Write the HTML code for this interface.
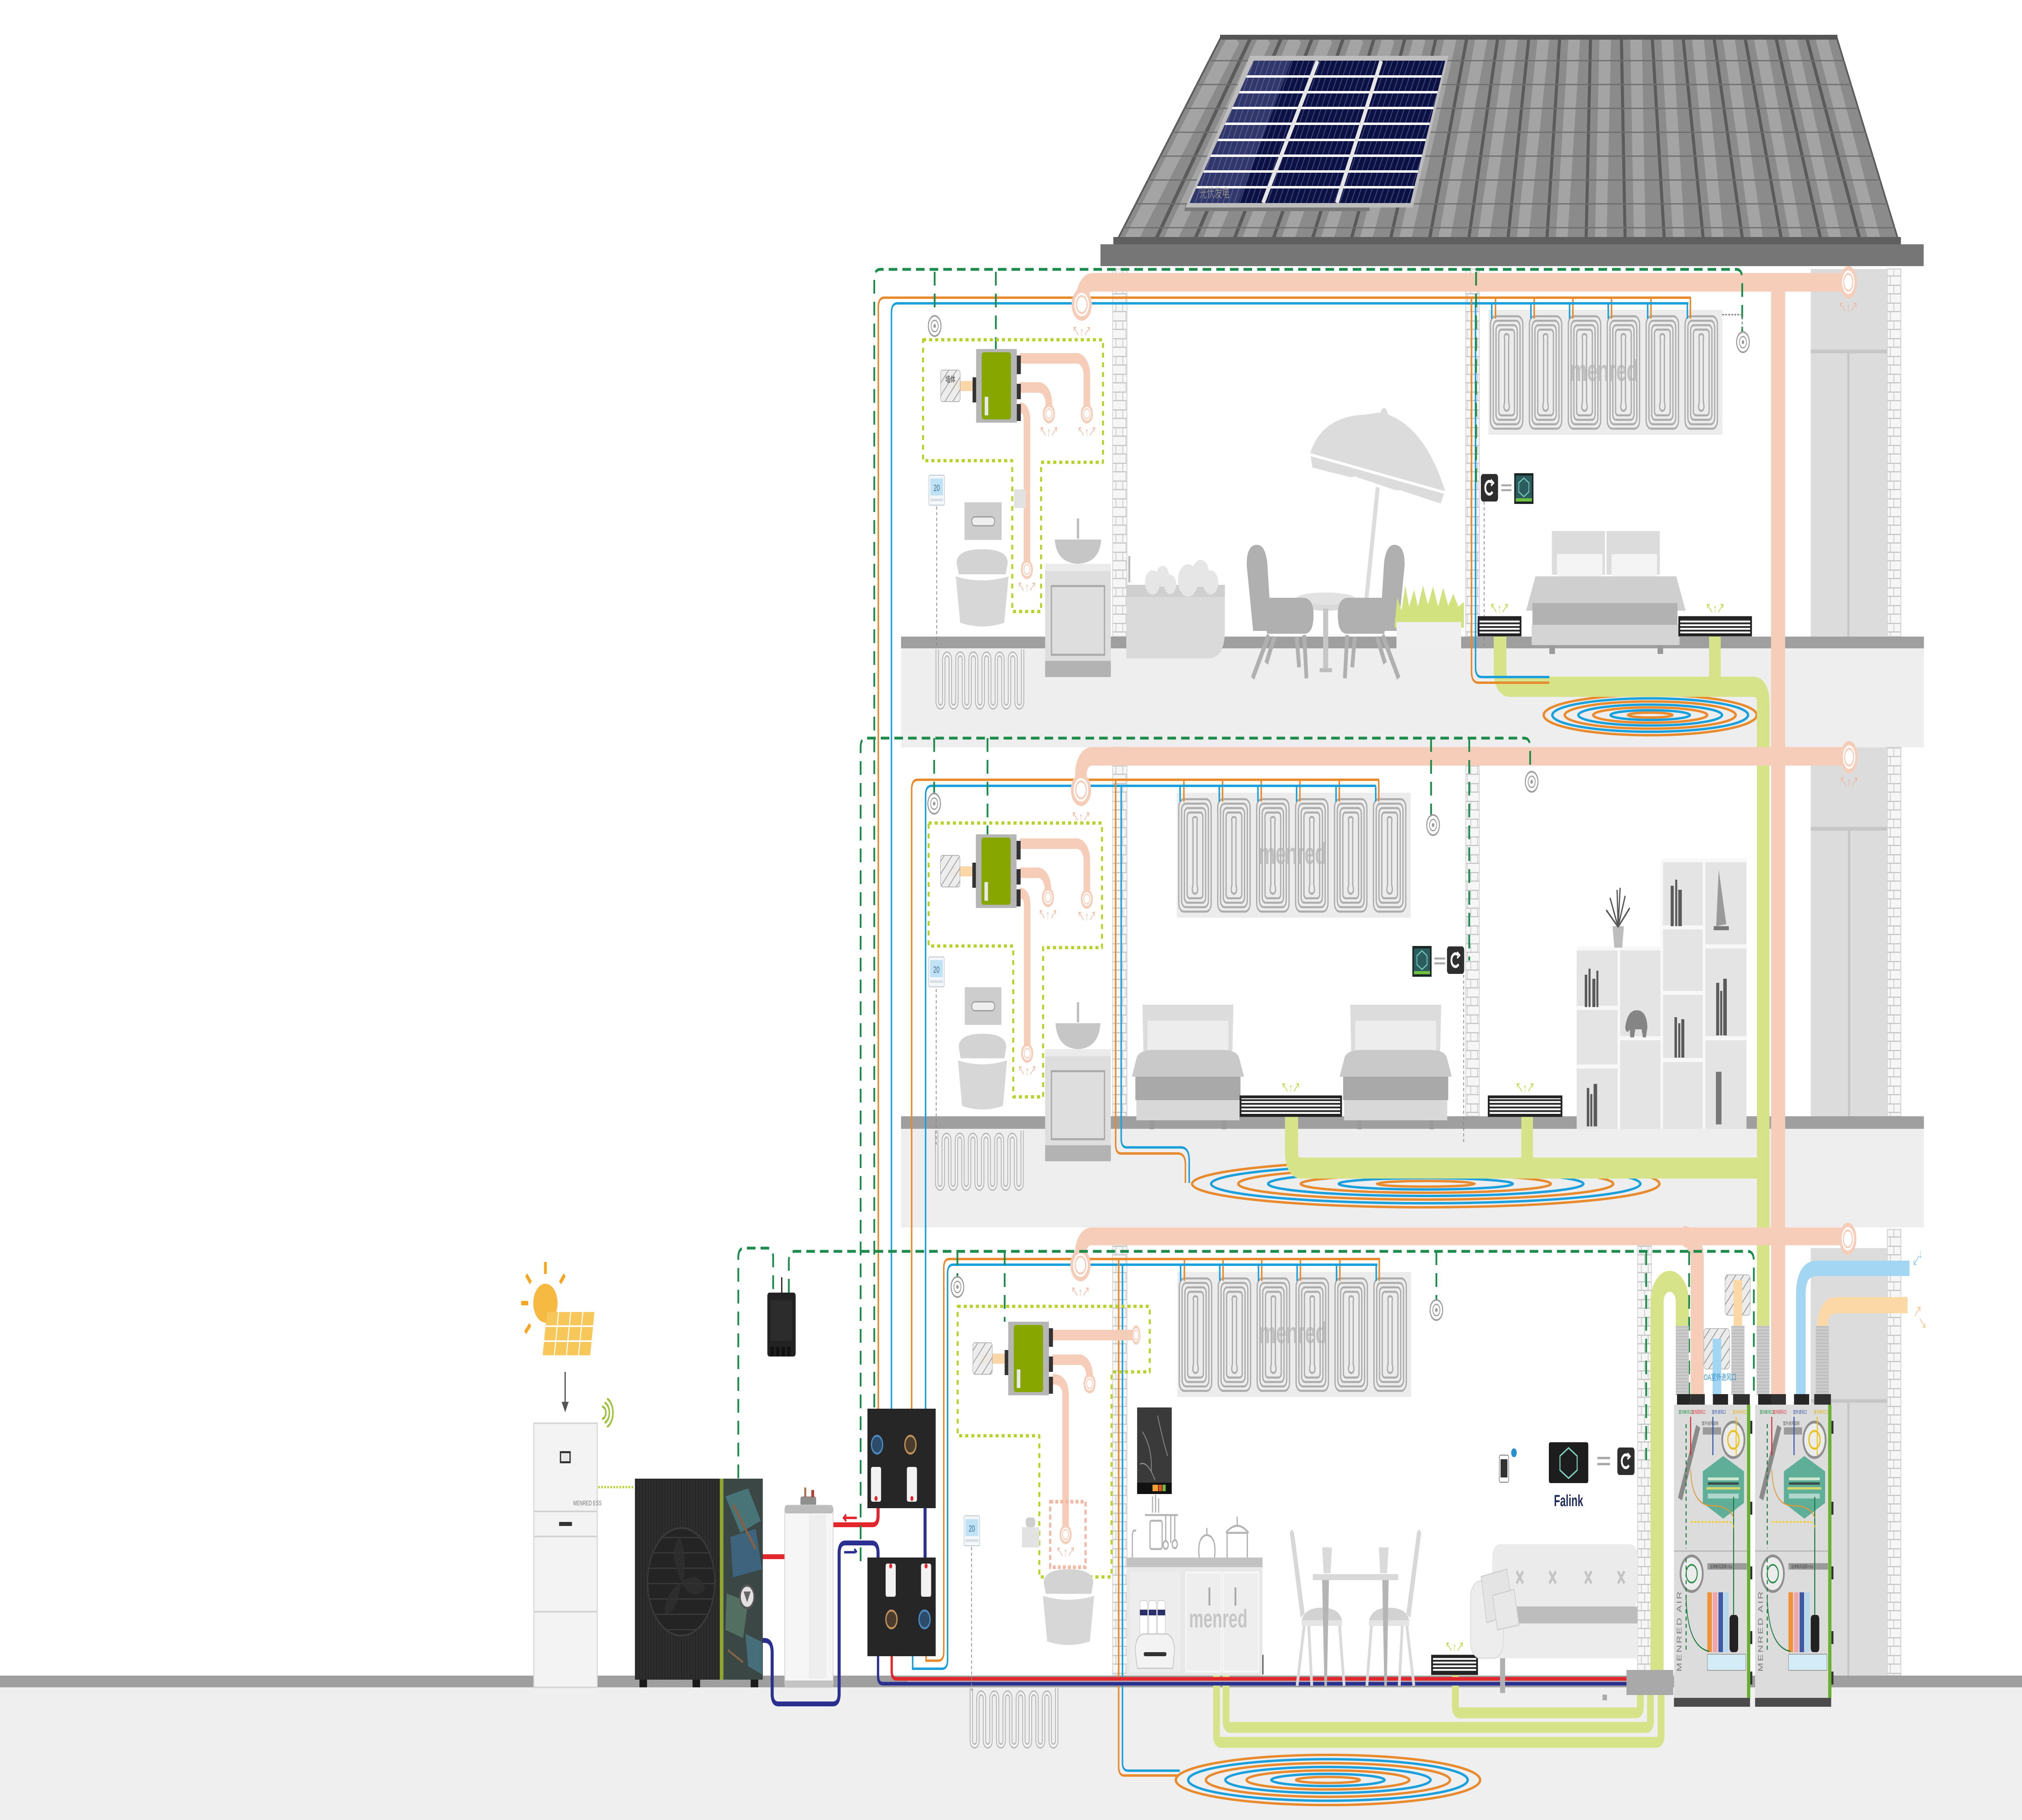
<!DOCTYPE html>
<html><head><meta charset="utf-8"><title>Menred house system</title>
<style>
html,body{margin:0;padding:0;background:#fff;width:100%;height:100%;overflow:hidden;}
svg{display:block;width:100vw;height:100vh;}
text{font-family:"Liberation Sans","Noto Sans CJK SC",sans-serif;}
</style></head><body>
<svg xmlns="http://www.w3.org/2000/svg" xmlns:xlink="http://www.w3.org/1999/xlink" viewBox="0 0 8000 4500" preserveAspectRatio="none">
<defs>
<pattern id="brick" width="54" height="44" patternUnits="userSpaceOnUse">
<rect width="54" height="44" fill="#f6f6f6"/>
<path d="M0 1.5H54M0 22.5H54M14 1.5V22.5M41 1.5V22.5M27 22.5V44" stroke="#c9c9c9" stroke-width="3" fill="none"/>
</pattern>
<pattern id="hatch" width="22" height="22" patternUnits="userSpaceOnUse" patternTransform="rotate(45)">
<rect width="22" height="22" fill="#ececec"/><rect width="3" height="22" fill="#a0a0a0"/>
</pattern>
<pattern id="cells" width="22" height="600" patternUnits="userSpaceOnUse" patternTransform="skewX(-28)">
<rect width="22" height="600" fill="#0c1142"/><rect width="3" height="600" fill="#46528e"/>
</pattern>
<pattern id="grille" width="10" height="9" patternUnits="userSpaceOnUse">
<rect width="10" height="9" fill="#fff"/><rect width="10" height="4.5" fill="#2b2b2b"/>
</pattern>
<pattern id="hpl" width="11" height="11" patternUnits="userSpaceOnUse">
<rect width="11" height="11" fill="#2e2e2e"/><rect width="3" height="11" fill="#222"/>
</pattern>
<pattern id="hgrid" width="10" height="38" patternUnits="userSpaceOnUse">
<rect width="10" height="38" fill="#242424"/><rect width="10" height="3" fill="#3a3a3a"/>
</pattern>
<pattern id="flex" width="10" height="8" patternUnits="userSpaceOnUse">
<rect width="10" height="8" fill="#cbcbcb"/><rect width="10" height="2" fill="#b8b8b8"/>
</pattern>
<clipPath id="roofclip"><polygon points="4827,92 7270,92 7519,604 4408,604"/></clipPath>
<clipPath id="solclip"><polygon points="4960,150 5718,150 5580,502 4706,502"/></clipPath>
<clipPath id="fanclip"><circle cx="2695" cy="3911" r="133"/></clipPath>

<g id="rl"><path fill="none" d="M4827 92L4408 604M4949 92L4564 604M5071 92L4719 604M5193 92L4875 604M5316 92L5030 604M5438 92L5186 604M5560 92L5341 604M5682 92L5497 604M5804 92L5652 604M5926 92L5808 604M6049 92L5964 604M6171 92L6119 604M6293 92L6275 604M6415 92L6430 604M6537 92L6586 604M6659 92L6741 604M6781 92L6897 604M6904 92L7052 604M7026 92L7208 604M7148 92L7363 604M7270 92L7519 604"/></g>

<g id="cu" fill="none" stroke="#acacac" stroke-width="5">
<rect x="8" y="16" width="128" height="278" rx="20"/><rect x="19" y="27" width="106" height="256" rx="16"/><rect x="30" y="38" width="84" height="234" rx="13"/><rect x="41" y="49" width="62" height="212" rx="10"/>
<path d="M64 72 Q60 60 72 60 Q84 60 80 72 V228 Q88 248 72 250 Q56 248 64 228 Z"/>
</g>
<g id="panel">
<rect width="925" height="309" fill="#ececec"/>
<use href="#cu"/><use href="#cu" x="154"/><use href="#cu" x="308"/><use href="#cu" x="462"/><use href="#cu" x="616"/><use href="#cu" x="770"/>
<text x="458" y="176" font-size="74" font-weight="bold" fill="#b4b4b4" text-anchor="middle" opacity="0.75">menred</text>
<path d="M28 -31V22M181 -31V22M334 -31V22M487 -31V22M643 -31V22M799 -31V22" stroke="#e88a2e" stroke-width="6" fill="none"/>
<path d="M13 -16V22M168 -16V22M321 -16V22M474 -16V22M630 -16V22M787 -16V22" stroke="#1ba0dc" stroke-width="6" fill="none"/>
</g>

<g id="coil">
<path d="M10 0V130A13 13 0 0 0 36 130V25A13 13 0 0 1 62 25V130A13 13 0 0 0 88 130V25A13 13 0 0 1 114 25V130A13 13 0 0 0 140 130V25A13 13 0 0 1 166 25V130A13 13 0 0 0 192 130V25A13 13 0 0 1 218 25V130A13 13 0 0 0 244 130V25A13 13 0 0 1 270 25V130A13 13 0 0 0 296 130V25A13 13 0 0 1 322 25V130A13 13 0 0 0 348 130V0" fill="none" stroke="#b7b7b7" stroke-width="13"/>
<path d="M10 0V130A13 13 0 0 0 36 130V25A13 13 0 0 1 62 25V130A13 13 0 0 0 88 130V25A13 13 0 0 1 114 25V130A13 13 0 0 0 140 130V25A13 13 0 0 1 166 25V130A13 13 0 0 0 192 130V25A13 13 0 0 1 218 25V130A13 13 0 0 0 244 130V25A13 13 0 0 1 270 25V130A13 13 0 0 0 296 130V25A13 13 0 0 1 322 25V130A13 13 0 0 0 348 130V0" fill="none" stroke="#f3f3f3" stroke-width="6"/>
</g>

<g id="spiral" fill="none">
<ellipse rx="430" ry="58" stroke="#e88a2e" stroke-width="6" vector-effect="non-scaling-stroke"/>
<ellipse rx="395" ry="48" stroke="#1ba0dc" stroke-width="6" vector-effect="non-scaling-stroke"/>
<ellipse rx="345" ry="39" stroke="#e88a2e" stroke-width="6" vector-effect="non-scaling-stroke"/>
<ellipse rx="290" ry="30" stroke="#1ba0dc" stroke-width="6" vector-effect="non-scaling-stroke"/>
<ellipse rx="230" ry="22" stroke="#e88a2e" stroke-width="6" vector-effect="non-scaling-stroke"/>
<ellipse rx="160" ry="14" stroke="#1ba0dc" stroke-width="6" vector-effect="non-scaling-stroke"/>
<ellipse rx="90" ry="7" stroke="#e88a2e" stroke-width="6" vector-effect="non-scaling-stroke"/>
</g>

<g id="ring"><circle r="40" fill="#f6cdb8"/><circle r="29" fill="#fff"/><circle r="21" fill="none" stroke="#f6cdb8" stroke-width="5"/></g>
<g id="sring"><circle r="24" fill="#f6cdb8"/><circle r="17" fill="#fff"/><circle r="12" fill="none" stroke="#f6cdb8" stroke-width="3"/></g>
<g id="sens"><circle r="25" fill="#fff" stroke="#9b9b9b" stroke-width="4"/><circle r="14" fill="none" stroke="#9b9b9b" stroke-width="3"/><circle r="5" fill="#9b9b9b"/></g>

<g id="mini">
<rect x="-14" y="70" width="16" height="62" fill="#333"/>
<rect width="161" height="182" fill="#b6b6b6"/>
<rect x="22" y="8" width="116" height="166" rx="8" fill="#88a600"/>
<rect x="161" y="16" width="16" height="46" fill="#333"/><rect x="161" y="86" width="16" height="38" fill="#333"/><rect x="161" y="136" width="16" height="42" fill="#333"/>
<rect x="34" y="118" width="14" height="46" fill="#e8e8e8"/>
</g>

<g id="toilet">
<path d="M10 34 Q10 0 111 0 Q212 0 212 34 L204 62 L18 62 Z" fill="#d3d3d3"/>
<path d="M6 64 Q111 82 216 64 L198 182 Q111 200 24 182 Z" fill="#d7d7d7"/>
<path d="M6 64 Q111 84 216 64" stroke="#fff" stroke-width="6" fill="none"/>
</g>

<g id="sink">
<rect width="260" height="280" fill="#dedede"/><rect width="260" height="18" fill="#ebebeb"/>
<rect x="25" y="55" width="210" height="170" fill="none" stroke="#a9a9a9" stroke-width="5"/>
<rect y="240" width="260" height="40" fill="#b3b3b3"/>
</g>

<g id="bed">
<path d="M42 0 H402 L398 116 H46 Z" fill="#dcdcdc"/>
<rect x="62" y="40" width="320" height="76" fill="#ededed"/>
<path d="M20 130 Q30 112 90 112 H354 Q414 112 424 130 L444 178 H0 Z" fill="#c9c9c9"/>
<rect x="14" y="178" width="416" height="58" fill="#a9a9a9"/>
<rect x="18" y="236" width="408" height="50" fill="#d8d8d8"/>
<rect x="70" y="286" width="18" height="22" fill="#9a9a9a"/><rect x="356" y="286" width="18" height="22" fill="#9a9a9a"/>
</g>

<g id="thermo"><rect width="62" height="74" rx="4" fill="#f4f7fa" stroke="#b9c6d0" stroke-width="2"/><rect x="6" y="8" width="50" height="42" fill="#bfe2f6"/><text x="31" y="39" font-size="22" text-anchor="middle" fill="#3a6a8a">20</text><rect x="6" y="58" width="50" height="6" fill="#d6dde3"/></g>

<g id="ctrl"><rect width="68" height="68" rx="9" fill="#2e2e2e"/><path d="M44 22 A16 16 0 1 0 46 44" fill="none" stroke="#fff" stroke-width="7"/><path d="M40 14 L50 22 L40 29" fill="none" stroke="#fff" stroke-width="5"/></g>
<g id="tab"><rect width="76" height="76" fill="#1c2526"/><rect x="6" y="6" width="64" height="56" fill="#2c5d5e"/><path d="M38 12 L58 24 V46 L38 58 L18 46 V24 Z" fill="none" stroke="#7fd0c0" stroke-width="3"/><rect x="6" y="62" width="64" height="8" fill="#6fbf40"/></g>

<g id="erv">
<rect x="12" y="-26" width="52" height="26" fill="#262626"/><rect x="64" y="-26" width="58" height="26" fill="#303030"/><rect x="154" y="-26" width="60" height="26" fill="#262626"/><rect x="234" y="-26" width="66" height="26" fill="#303030"/>
<rect x="0" y="0" width="301" height="747" fill="#dcdcdc"/>
<rect x="289" y="0" width="13" height="725" fill="#6aaf2e"/>
<rect x="302" y="40" width="8" height="32" fill="#333"/><rect x="302" y="240" width="8" height="32" fill="#333"/><rect x="302" y="400" width="8" height="32" fill="#333"/><rect x="302" y="560" width="8" height="32" fill="#333"/><rect x="302" y="660" width="8" height="32" fill="#333"/>
<line x1="0" y1="362" x2="289" y2="362" stroke="#a8a8a8" stroke-width="2"/>
<rect x="0" y="725" width="301" height="22" fill="#4b4b4b"/>
<polygon points="195,127 277,165 277,243 195,282 114,243 114,165" fill="#5fae98"/>
<rect x="134" y="180" width="122" height="7" fill="#e8f5e0" opacity=".8"/><rect x="134" y="192" width="122" height="6" fill="#2a2a2a" opacity=".7"/><rect x="128" y="204" width="134" height="6" fill="#f0e060" opacity=".8"/>
<rect x="134" y="220" width="122" height="12" fill="#fff" opacity=".5"/>
<circle cx="235" cy="87" r="44" fill="#ececec" stroke="#8f8f8f" stroke-width="7"/><circle cx="235" cy="87" r="22" fill="none" stroke="#e8c21e" stroke-width="5"/>
<circle cx="70" cy="418" r="44" fill="#ececec" stroke="#8f8f8f" stroke-width="7"/><circle cx="70" cy="418" r="22" fill="none" stroke="#2f8f4f" stroke-width="4"/>
<polygon points="88,50 104,57 32,237 16,230" fill="#8a8a8a"/>
<rect x="114" y="56" width="72" height="18" fill="#9a9a9a"/>
<rect x="132" y="392" width="156" height="16" fill="#9a9a9a"/>
<rect x="132" y="464" width="18" height="148" fill="#f0923a"/><rect x="154" y="464" width="18" height="148" fill="#f2a5a8"/><rect x="176" y="464" width="18" height="148" fill="#3d5aa6"/><rect x="198" y="464" width="18" height="148" fill="#b4d9ef"/>
<rect x="220" y="520" width="34" height="92" rx="10" fill="#222"/>
<rect x="132" y="617" width="152" height="40" fill="#d3ecf7" stroke="#9a9a9a" stroke-width="2"/>
<path d="M48 48V355M48 380V610" stroke="#1b7a3d" stroke-width="4" stroke-dasharray="10 8" fill="none"/>
<path d="M66 30V125" stroke="#d8262c" stroke-width="4"/><path d="M154 30V125" stroke="#2b4fa8" stroke-width="4"/><path d="M246 125V30" stroke="#f0c419" stroke-width="4"/>
<path d="M236 228V520" stroke="#1b7a3d" stroke-width="4"/>
<path d="M66 160 Q70 250 150 250 Q220 250 236 280" fill="none" stroke="#d89a3a" stroke-width="3"/>
<path d="M66 290 H220 Q236 292 236 310" fill="none" stroke="#f0d020" stroke-width="4" stroke-dasharray="8 6"/>
<path d="M48 480 Q55 600 140 610" fill="none" stroke="#1b7a3d" stroke-width="3"/>
<text x="18" y="22" font-size="11" fill="#1b8a3d">室内新风口</text>
<text x="70" y="22" font-size="11" fill="#d8262c">室内回风口</text>
<text x="150" y="22" font-size="11" fill="#2b4fa8">室外进风口</text>
<text x="232" y="22" font-size="11" fill="#e0b010">室外排风口</text>
<text x="110" y="50" font-size="11" fill="#555">室外进风滤网</text>
<text x="142" y="404" font-size="11" fill="#444">洁净新风滤网 H11</text>
<text transform="translate(30 660) rotate(-90)" font-size="26" fill="#7a7a7a" letter-spacing="4">MENRED AIR</text>
</g>
</defs>

<rect width="8000" height="4500" fill="#ffffff"/>

<!-- floor bands -->
<rect x="3565" y="1603" width="4047" height="245" fill="#eeeeee"/>
<rect x="3565" y="2791" width="4047" height="244" fill="#eeeeee"/>
<rect x="0" y="4172" width="8000" height="328" fill="#efefef"/>

<!-- right wall column -->
<rect x="7164" y="665" width="303" height="909" fill="#dcdcdc"/>
<rect x="7164" y="1848" width="303" height="912" fill="#dcdcdc"/>
<rect x="7164" y="3086" width="303" height="1057" fill="#dcdcdc"/>
<path d="M7164 869H7467M7313 869V1574M7164 2049H7467M7316 2049V2760M7164 3464H7467M7313 3464V4143" stroke="#c6c6c6" stroke-width="9" fill="none"/>

<!-- brick columns -->
<g fill="url(#brick)" stroke="#d4d4d4" stroke-width="3">
<rect x="7467" y="665" width="54" height="909"/><rect x="7467" y="1848" width="54" height="912"/><rect x="7467" y="3040" width="54" height="1103"/>
<rect x="4402" y="665" width="57" height="909"/><rect x="4402" y="1848" width="57" height="912"/><rect x="4402" y="3040" width="57" height="1103"/>
<rect x="5799" y="665" width="54" height="909"/><rect x="5799" y="1848" width="54" height="912"/>
<rect x="6479" y="3078" width="55" height="1065"/>
</g>

<!-- slabs -->
<rect x="3565" y="1574" width="4047" height="29" fill="#9f9f9f"/>
<rect x="3565" y="2760" width="4047" height="31" fill="#9f9f9f"/>
<rect x="0" y="4143" width="8000" height="29" fill="#9f9f9f"/>

<!-- roof -->
<polygon points="4827,92 7270,92 7519,604 4408,604" fill="#8b8b8b"/>
<g clip-path="url(#roofclip)">
<use href="#rl" transform="translate(58 0)" stroke="#a4a4a4" stroke-width="46"/>
<use href="#rl" stroke="#5b5b5b" stroke-width="12"/>
<path d="M4300 150H7600M4300 209H7600M4300 268H7600M4300 327H7600M4300 386H7600M4300 445H7600M4300 504H7600M4300 563H7600" stroke="#6e6e6e" stroke-width="3" fill="none"/>
</g>
<rect x="4827" y="86" width="2443" height="12" fill="#555"/>
<rect x="4405" y="586" width="3116" height="20" fill="#5f5f5f"/>
<rect x="4354" y="604" width="3257" height="54" fill="#767676"/>

<!-- solar panel -->
<polygon points="4690,505 5420,505 5418,522 4686,522" fill="#7a7a7a"/>
<polygon points="4946,138 5731,138 5590,513 4690,513" fill="#bdbdbd"/>
<polygon points="4960,150 5718,150 5580,502 4706,502" fill="url(#cells)"/>
<g clip-path="url(#solclip)">
<polygon points="4960,150 5110,150 4900,502 4706,502" fill="#8a93c8" opacity="0.3"/>
<path d="M4600 189H5800M4600 228H5800M4600 267H5800M4600 306H5800M4600 346H5800M4600 385H5800M4600 424H5800M4600 463H5800" stroke="#fff" stroke-width="6"/>
<path d="M5213 150L4997 502M5465 150L5289 502" stroke="#e6e6e6" stroke-width="14"/>
</g>
<text x="4745" y="488" font-size="30" fill="#8c8c8c">光伏发电</text>

<!-- radiant ceiling panels -->
<use href="#panel" transform="translate(5889 766)"/>
<use href="#panel" transform="translate(4656 1960)"/>
<use href="#panel" transform="translate(4658 3145)"/>

<!-- floor coils -->
<use href="#coil" transform="translate(3698 1605)"/>
<use href="#coil" transform="translate(3696 2795)"/>
<use href="#coil" transform="translate(3833 4174)"/>

<!-- heating spirals -->
<use href="#spiral" transform="translate(6529 1768) scale(0.98 0.86)"/>
<use href="#spiral" transform="translate(5641 2927) scale(2.15 1)"/>
<use href="#spiral" transform="translate(5254 4401) scale(1.4 1.07)"/>

<!-- green return ducts -->
<g fill="none" stroke="#d7e389" stroke-linejoin="round">
<path d="M5935 1568 V1658 Q5935 1698 5975 1698 H6936 Q6976 1698 6976 1738 V3285" stroke-width="50"/>
<path d="M6785 1568 V1698" stroke-width="46"/>
<path d="M5110 2756 V2848 Q5110 2888 5150 2888 H6976" stroke-width="52"/>
<path d="M6042 2756 V2888" stroke-width="46"/>
<path d="M4813 4138 V4290 Q4813 4308 4831 4308 H6553 Q6572 4308 6572 4290 V4180" stroke-width="27"/>
<path d="M4851 4138 V4254 Q4851 4271 4868 4271 H6513 Q6530 4271 6530 4254 V4180" stroke-width="27"/>
<path d="M5758 4138 V4218 Q5758 4235 5775 4235 H6473 Q6490 4235 6490 4218 V4180" stroke-width="27"/>
<path d="M6556 4140 V3218 A50 50 0 0 1 6656 3218 V3285" stroke-width="52"/>
</g>

<!-- supply lines -->
<g fill="none" stroke-width="6">
<path d="M3475 3483 V760 Q3475 736 3499 736 H6690" stroke="#e88a2e"/>
<path d="M3527 3483 V774 Q3527 750 3551 750 H6680" stroke="#1ba0dc"/>
<path d="M5822 736 V1660 Q5822 1688 5850 1688 H6130" stroke="#e88a2e"/>
<path d="M5838 750 V1650 Q5838 1674 5862 1674 H6130" stroke="#1ba0dc"/>
<path d="M3607 3483 V1952 Q3607 1928 3631 1928 H5456" stroke="#e88a2e"/>
<path d="M3662 3483 V1967 Q3662 1943 3686 1943 H5444" stroke="#1ba0dc"/>
<path d="M4414 1928 V2830 Q4414 2852 4436 2852 H4660 Q4690 2852 4690 2880 V2925" stroke="#e88a2e"/>
<path d="M4436 1943 V2815 Q4436 2837 4458 2837 H4672 Q4705 2837 4705 2870 V2925" stroke="#1ba0dc"/>
<path d="M3664 4095 V4106 H3712 Q3734 4106 3734 4084 V3135 Q3734 3113 3756 3113 H5460" stroke="#e88a2e"/>
<path d="M3611 4095 V4126 H3727 Q3749 4126 3749 4104 V3149 Q3749 3127 3771 3127 H5450" stroke="#1ba0dc"/>
<path d="M4426 3113 V4368 Q4426 4390 4448 4390 H4660" stroke="#e88a2e"/>
<path d="M4441 3127 V4358 Q4441 4378 4463 4378 H4668" stroke="#1ba0dc"/>
</g>

<!-- red / navy hydronic -->
<g fill="none" stroke-width="12">
<path d="M2956 3920 V3870 Q2956 3849 2977 3849 H3105" stroke="#e3262c"/>
<path d="M3296 3770 H3452 Q3474 3770 3474 3748 V3729" stroke="#e3262c"/>
<path d="M2956 3976 V4030 Q2956 4056 2982 4056 H3025 Q3055 4056 3055 4086 V4188 Q3055 4213 3080 4213 H3295 Q3320 4213 3320 4188 V3840 Q3320 3815 3345 3815 H3450 Q3474 3815 3474 3840 V3851" stroke="#2b2f8f"/>
<path d="M3660 3729 V3851" stroke="#2b2f8f"/>
<path d="M3528 4095 V4132 Q3528 4151 3547 4151 H6435" stroke="#e3262c" stroke-width="9"/>
<path d="M3474 4095 V4144 Q3474 4163 3493 4163 H6435" stroke="#2b2f8f" stroke-width="9"/>
</g>
<path d="M3590 4157 H6435" stroke="#b9b9b9" stroke-width="3"/>

<!-- peach fresh-air ducts -->
<g fill="none" stroke="#f6cdb8" stroke-linejoin="round">
<path d="M4280 753 V740 A42 42 0 0 1 4322 698 H7313" stroke-width="46"/>
<path d="M4277 1953 V1912 A42 42 0 0 1 4319 1870 H7316" stroke-width="46"/>
<path d="M4275 3128 V3099 A42 42 0 0 1 4317 3057 H7311" stroke-width="44"/>
<path d="M6660 3057 A55 55 0 0 1 6715 3112 V3452" stroke-width="52"/>
<path d="M7035 698 V3452" stroke-width="56"/>
<path d="M4035 886 H4260 A40 40 0 0 1 4300 926 V1005" stroke-width="26"/>
<path d="M4035 958 H4110 A40 40 0 0 1 4150 998 V1005" stroke-width="26"/>
<path d="M4035 1008 Q4063 1008 4063 1040 V1392" stroke-width="26"/>
<path d="M4035 2086 H4260 A40 40 0 0 1 4300 2126 V2205" stroke-width="26"/>
<path d="M4035 2158 H4110 A40 40 0 0 1 4146 2198 V2205" stroke-width="26"/>
<path d="M4035 2208 Q4064 2208 4064 2240 V2588" stroke-width="26"/>
<path d="M4165 3301 H4490" stroke-width="26"/>
<path d="M4165 3362 H4271 A40 40 0 0 1 4311 3402 V3405" stroke-width="26"/>
<path d="M4165 3410 Q4216 3410 4216 3450 V3780" stroke-width="26"/>
</g>
<rect x="3765" y="942" width="100" height="25" fill="#fbd6a8"/>
<rect x="3764" y="2142" width="100" height="25" fill="#fbd6a8"/>
<rect x="3880" y="3347" width="110" height="25" fill="#fbd6a8"/>
<rect x="3722" y="915" width="77" height="78" rx="8" fill="url(#hatch)" stroke="#aaa" stroke-width="2" opacity=".9"/>
<rect x="3721" y="2115" width="77" height="78" rx="8" fill="url(#hatch)" stroke="#aaa" stroke-width="2" opacity=".9"/>
<rect x="3849" y="3320" width="77" height="78" rx="8" fill="url(#hatch)" stroke="#aaa" stroke-width="2" opacity=".9"/>
<text x="3740" y="945" font-size="20" fill="#444">墙体</text>
<rect x="4155" y="3713" width="140" height="162" fill="none" stroke="#f3b9a4" stroke-width="9" stroke-dasharray="12 8"/>

<!-- rings -->
<use href="#ring" transform="translate(4280 753)"/>
<use href="#ring" transform="translate(7313 698) scale(0.85 1)"/>
<use href="#ring" transform="translate(4277 1953)"/>
<use href="#ring" transform="translate(7316 1872) scale(0.85 1)"/>
<use href="#ring" transform="translate(4275 3128)"/>
<use href="#ring" transform="translate(7311 3063) scale(0.85 1)"/>
<use href="#sring" transform="translate(4300 1023)"/><use href="#sring" transform="translate(4150 1023)"/><use href="#sring" transform="translate(4063 1408)"/>
<use href="#sring" transform="translate(4300 2223)"/><use href="#sring" transform="translate(4146 2219)"/><use href="#sring" transform="translate(4064 2604)"/>
<use href="#sring" transform="translate(4495 3301) scale(0.7 1)"/><use href="#sring" transform="translate(4311 3421)"/><use href="#sring" transform="translate(4216 3794)"/>
<g font-size="30" fill="#f2b49a" text-anchor="middle">
<text x="4280" y="830">↖↑↗</text><text x="4300" y="1078">↖↑↗</text><text x="4150" y="1078">↖↑↗</text><text x="4063" y="1462">↖↑↗</text>
<text x="4277" y="2030">↖↑↗</text><text x="4300" y="2276">↖↑↗</text><text x="4146" y="2272">↖↑↗</text><text x="4064" y="2658">↖↑↗</text>
<text x="4275" y="3205">↖↑↗</text><text x="4216" y="3848">↖↑↗</text><text x="7313" y="770">↖↑↗</text><text x="7316" y="1944">↖↑↗</text>
</g>

<!-- dashed control wiring -->
<g fill="none" stroke="#1d8b4b" stroke-width="7" stroke-dasharray="34 20">
<path d="M3459 3480 V690 Q3459 666 3483 666 H6870 Q6893 666 6893 690 V820"/>
<path d="M3698 672 V780M3940 672 V863M5840 672 V1200"/>
<path d="M3405 3860 V1848 Q3405 1825 3428 1825 H6030 Q6054 1825 6054 1848 V1908"/>
<path d="M3696 1825 V1962M3907 1825 V2063M5662 1825 V2015M5813 1825 V2375"/>
<path d="M2921 3655 V3110 Q2921 3086 2945 3086 H3035 Q3059 3086 3059 3110 V3196"/>
<path d="M3121 3196 V3118 Q3121 3094 3145 3094 H6915 Q6939 3094 6939 3118 V3450"/>
<path d="M3788 3094 V3157M3975 3094 V3268M5683 3094 V3214M6513 3094 V3610M6683 3094 V3450"/>
</g>
<path d="M6814 778 H6893 V822" fill="none" stroke="#8a8a8a" stroke-width="4" stroke-dasharray="7 5"/>
<path d="M3706 1252 V1600M3704 2445 V2830M3844 3825 V4180M5872 1240 V1600M5791 2410 V2830" fill="none" stroke="#8a8a8a" stroke-width="3" stroke-dasharray="8 6"/>

<!-- sensors -->
<use href="#sens" transform="translate(3698 806)"/><use href="#sens" transform="translate(6896 846)"/>
<use href="#sens" transform="translate(3696 1987)"/><use href="#sens" transform="translate(6060 1933)"/><use href="#sens" transform="translate(5670 2040)"/>
<use href="#sens" transform="translate(3788 3182)"/><use href="#sens" transform="translate(5683 3239)"/>

<!-- lime dotted zones -->
<g fill="none" stroke="#b9d12b" stroke-width="8" stroke-dasharray="12 12" stroke-linejoin="round">
<path d="M3652 840 H4364 V1143 H4119 V1512 H4005 V1139 H3652 Z"/>
<path d="M3674 2035 H4360 V2343 H4127 V2712 H4009 V2339 H3674 Z"/>
<path d="M3789 3230 H4549 V3392 H4398 V3899 H4112 V3550 H3789 Z"/>
</g>

<!-- mini ERV units -->
<use href="#mini" transform="translate(3862 863)"/>
<use href="#mini" transform="translate(3861 2063)"/>
<use href="#mini" transform="translate(3989 3268)"/>

<!-- bathrooms -->
<rect x="3816" y="1242" width="147" height="93" fill="#cdcdcd"/><rect x="3845" y="1278" width="90" height="22" rx="11" fill="#eee" stroke="#999" stroke-width="3"/>
<use href="#toilet" transform="translate(3775 1358)"/>
<rect x="3817" y="2441" width="145" height="93" fill="#cdcdcd"/><rect x="3845" y="2477" width="90" height="22" rx="11" fill="#eee" stroke="#999" stroke-width="3"/>
<use href="#toilet" transform="translate(3784 2556) scale(0.93 0.98)"/>
<use href="#toilet" transform="translate(4120 3880) scale(0.97 0.98)"/>
<rect x="4043" y="3776" width="69" height="50" fill="#e2e2e2"/><rect x="4058" y="3752" width="38" height="24" rx="10" fill="#cfcfcf"/>
<rect x="4012" y="1210" width="46" height="46" fill="#e2e2e2"/>
<use href="#sink" transform="translate(4135 1394)"/>
<path d="M4173 1334 H4357 Q4350 1392 4265 1394 Q4180 1392 4173 1334 Z" fill="#c6c6c6"/>
<path d="M4265 1282 V1332" stroke="#bdbdbd" stroke-width="9"/>
<use href="#sink" transform="translate(4135 2594) scale(1 0.99)"/>
<path d="M4176 2530 H4354 Q4347 2592 4265 2594 Q4183 2592 4176 2530 Z" fill="#c6c6c6"/>
<path d="M4265 2478 V2528" stroke="#bdbdbd" stroke-width="9"/>
<use href="#thermo" transform="translate(3675 1175)"/>
<use href="#thermo" transform="translate(3674 2366)"/>
<use href="#thermo" transform="translate(3814 3748)"/>

<!-- top floor terrace -->
<path d="M4456 1446 H4846 V1560 Q4846 1628 4778 1628 H4456 Z" fill="#dadada"/>
<rect x="4456" y="1446" width="390" height="30" fill="#cfcfcf"/>
<g fill="#e6e6e6"><circle cx="4560" cy="1440" r="30"/><circle cx="4600" cy="1425" r="26"/><circle cx="4630" cy="1445" r="24"/><circle cx="4700" cy="1435" r="40"/><circle cx="4750" cy="1418" r="34"/><circle cx="4790" cy="1440" r="30"/></g>
<path d="M4468 1440 V1375" stroke="#bdbdbd" stroke-width="8"/>
<path d="M5184 1120 Q5230 1030 5400 1025 L5462 1020 Q5470 1002 5485 1012 L5492 1025 Q5640 1060 5717 1213 L5700 1245 L5540 1212 L5522 1212 L5360 1178 L5344 1180 L5192 1156 Z" fill="#dcdcdc"/>
<path d="M5184 1124 L5717 1218" stroke="#fff" stroke-width="7"/>
<path d="M5451 1205 L5396 1543" stroke="#dcdcdc" stroke-width="16"/>
<ellipse cx="5245" cy="1488" rx="120" ry="22" fill="#d9d9d9"/><ellipse cx="5245" cy="1480" rx="118" ry="15" fill="#e2e2e2"/>
<rect x="5235" y="1505" width="20" height="148" fill="#c6c6c6"/><rect x="5221" y="1652" width="49" height="10" fill="#bdbdbd"/>
<g id="tchair" fill="#b0b0b0">
<path d="M5459 1560 L5476 1392 Q5484 1347 5517 1347 Q5560 1348 5557 1400 L5532 1560 Z"/>
<path d="M5293 1520 Q5293 1478 5335 1478 H5466 Q5496 1525 5476 1567 H5330 Q5293 1567 5293 1520 Z"/>
<path d="M5330 1570 L5321 1677M5470 1570 L5534 1677M5360 1575 L5350 1650M5448 1575 L5480 1640" stroke="#b0b0b0" stroke-width="15" fill="none"/>
</g>
<use href="#tchair" transform="translate(10490 0) scale(-1 1)"/>
<path d="M5517 1552 L5528 1478 L5545 1510 L5560 1447 L5575 1500 L5595 1458 L5610 1500 L5630 1448 L5650 1495 L5670 1450 L5690 1500 L5710 1453 L5730 1498 L5750 1468 L5770 1500 L5792 1488 L5792 1552 Z" fill="#d2e27e"/>
<rect x="5525" y="1538" width="256" height="65" fill="#efefef"/>

<!-- top bedroom -->
<use href="#ctrl" transform="translate(5859 1172)"/>
<use href="#tab" transform="translate(5991 1170)"/>
<path d="M5940 1200 H5980M5940 1212 H5980" stroke="#aaa" stroke-width="5"/>
<rect x="6140" y="1313" width="210" height="108" fill="#dcdcdc"/><rect x="6356" y="1313" width="211" height="108" fill="#dcdcdc"/>
<rect x="6160" y="1370" width="180" height="55" fill="#f4f4f4"/><rect x="6376" y="1370" width="180" height="55" fill="#f4f4f4"/>
<path d="M6075 1425 H6632 L6669 1510 H6038 Z" fill="#cfcfcf"/>
<rect x="6063" y="1491" width="574" height="54" fill="#b2b2b2"/>
<rect x="6060" y="1545" width="585" height="50" fill="#d4d4d4"/>
<rect x="6130" y="1595" width="22" height="22" fill="#9a9a9a"/><rect x="6558" y="1595" width="22" height="22" fill="#9a9a9a"/>

<!-- middle bedroom -->
<use href="#bed" transform="translate(4478 2484)"/>
<use href="#bed" transform="translate(5300 2484)"/>
<use href="#tab" transform="translate(5588 2339)"/>
<use href="#ctrl" transform="translate(5725 2340)"/>
<path d="M5675 2370 H5718M5675 2382 H5718" stroke="#aaa" stroke-width="5"/>
<rect x="6238" y="2345" width="337" height="446" fill="#e4e4e4"/>
<rect x="6575" y="2127" width="335" height="664" fill="#e4e4e4"/>
<path d="M6405 2345V2791M6575 2127V2791M6742 2127V2791M6238 2492H6405M6238 2637H6405M6405 2567H6575M6575 2293H6742M6575 2455H6742M6575 2621H6742M6742 2340H6910M6742 2567H6910M6238 2345H6575M6575 2127H6910" stroke="#f8f8f8" stroke-width="10" fill="none"/>
<g fill="#5a5a5a">
<rect x="6270" y="2410" width="10" height="80"/><rect x="6285" y="2395" width="8" height="95"/><rect x="6300" y="2420" width="12" height="70"/><rect x="6316" y="2400" width="8" height="90"/>
<rect x="6278" y="2690" width="10" height="95"/><rect x="6292" y="2705" width="8" height="80"/><rect x="6305" y="2680" width="14" height="105"/>
<rect x="6610" y="2190" width="12" height="100"/><rect x="6628" y="2175" width="8" height="115"/><rect x="6640" y="2200" width="14" height="90"/>
<rect x="6625" y="2515" width="10" height="100"/><rect x="6640" y="2530" width="8" height="85"/><rect x="6652" y="2520" width="12" height="95"/>
<rect x="6790" y="2430" width="12" height="130"/><rect x="6806" y="2450" width="8" height="110"/><rect x="6818" y="2420" width="14" height="140"/>
</g>
<path d="M6430 2540 Q6440 2495 6480 2498 Q6515 2500 6518 2540 L6512 2565 H6500 L6495 2545 L6470 2545 L6465 2565 H6450 L6448 2545 Q6435 2560 6430 2540 Z" fill="#858585"/>
<path d="M6790 2290 L6800 2150 L6830 2285 Z" fill="#9a9a9a"/><rect x="6780" y="2290" width="60" height="10" fill="#777"/>
<path d="M6800 2780 V2650" stroke="#777" stroke-width="22"/>
<polygon points="6380,2290 6425,2290 6418,2343 6387,2343" fill="#bdbdbd"/>
<path d="M6402 2292 L6398 2200 M6402 2292 L6370 2220 M6402 2292 L6430 2215 M6402 2292 L6355 2250 M6402 2292 L6448 2245 M6402 2292 L6410 2195" stroke="#5a5a5a" stroke-width="5" fill="none"/>

<!-- vents -->
<g stroke="#222" stroke-width="7">
<rect x="5850" y="1527" width="166" height="43" fill="url(#grille)"/>
<rect x="6644" y="1527" width="284" height="43" fill="url(#grille)"/>
<rect x="4908" y="2712" width="398" height="46" fill="url(#grille)"/>
<rect x="5890" y="2712" width="288" height="46" fill="url(#grille)"/>
<rect x="4661" y="4095" width="334" height="42" fill="url(#grille)"/>
<rect x="5666" y="4095" width="178" height="43" fill="url(#grille)"/>
</g>
<g font-size="30" fill="#b9d12b" text-anchor="middle">
<text x="5933" y="1515">↖↑↗</text><text x="6786" y="1515">↖↑↗</text><text x="5107" y="2700">↖↑↗</text><text x="6034" y="2700">↖↑↗</text><text x="4828" y="4083">↖↑↗</text><text x="5755" y="4083">↖↑↗</text>
</g>

<!-- kitchen -->
<rect x="4499" y="3480" width="137" height="214" fill="#3a3a3a"/>
<path d="M4520 3540 Q4560 3580 4555 3640 M4580 3500 Q4600 3560 4620 3600 M4510 3620 Q4540 3610 4570 3660" stroke="#8c8c8c" stroke-width="3" fill="none"/>
<rect x="4499" y="3666" width="137" height="28" fill="#111"/>
<rect x="4560" y="3671" width="22" height="16" fill="#f0a030"/><rect x="4584" y="3671" width="14" height="16" fill="#e05020"/><rect x="4600" y="3671" width="12" height="16" fill="#6fbf40"/>
<g fill="none" stroke="#b5b5b5" stroke-width="5">
<path d="M4530 3746 H4660"/><rect x="4550" y="3760" width="48" height="70" rx="6"/><path d="M4612 3748 V3810M4632 3748 V3815M4648 3748 V3808"/>
<circle cx="4612" cy="3820" r="10"/><circle cx="4648" cy="3818" r="10"/>
<path d="M4560 3740 V3700M4572 3740 V3695M4584 3740 V3705"/>
<path d="M4745 3851 Q4735 3800 4775 3795 Q4815 3800 4805 3851 M4775 3795 V3778"/>
<path d="M4855 3851 V3790 H4935 V3851 M4850 3790 Q4895 3755 4940 3790 M4895 3770 V3750"/>
<path d="M4480 3851 V3800 Q4480 3780 4495 3785"/>
</g>
<rect x="4458" y="3851" width="537" height="24" fill="#c2c2c2"/>
<rect x="4458" y="3875" width="537" height="268" fill="#e8e8e8"/>
<rect x="4470" y="3885" width="200" height="250" fill="#ededed"/>
<rect x="4692" y="3888" width="140" height="245" fill="#eeeeee" stroke="#f7f7f7" stroke-width="5"/><rect x="4840" y="3888" width="140" height="245" fill="#eeeeee" stroke="#f7f7f7" stroke-width="5"/>
<path d="M4785 3925 V3970M4888 3925 V3970" stroke="#a8a8a8" stroke-width="7"/>
<text x="4820" y="4024" font-size="64" font-weight="bold" fill="#c6c6c6" text-anchor="middle">menred</text>
<rect x="4510" y="3957" width="30" height="110" rx="8" fill="#fff" stroke="#ccc" stroke-width="2"/><rect x="4545" y="3957" width="30" height="110" rx="8" fill="#fff" stroke="#ccc" stroke-width="2"/><rect x="4580" y="3957" width="30" height="110" rx="8" fill="#fff" stroke="#ccc" stroke-width="2"/>
<rect x="4510" y="3980" width="30" height="14" fill="#2a2f6a"/><rect x="4545" y="3980" width="30" height="14" fill="#2a2f6a"/><rect x="4580" y="3980" width="30" height="14" fill="#2a2f6a"/>
<path d="M4491 4080 Q4495 4040 4530 4040 H4615 Q4645 4045 4647 4080 L4640 4125 H4500 Z" fill="#f3f3f3" stroke="#c8c8c8" stroke-width="3"/>
<rect x="4525" y="4085" width="90" height="10" rx="5" fill="#333"/>

<!-- dining -->
<g id="dchair">
<path d="M5103 3790 Q5110 3775 5120 3790 L5162 3990 L5146 4000 Z" fill="#d8d8d8"/>
<path d="M5150 4008 Q5160 3975 5230 3975 Q5300 3975 5310 4008 Z" fill="#d2d2d2"/>
<rect x="5150" y="4006" width="160" height="14" fill="#e4e4e4"/>
<path d="M5160 4020 L5132 4168M5300 4020 L5318 4168M5178 4020 L5190 4168" stroke="#dadada" stroke-width="11" fill="none"/>
</g>
<use href="#dchair" transform="translate(10726 0) scale(-1 1)"/>
<path d="M5231 3826 H5270 L5264 3890 H5237 Z M5455 3826 H5494 L5488 3890 H5461 Z" fill="#dadada"/>
<rect x="5194" y="3892" width="338" height="15" fill="#d9d9d9"/>
<polygon points="5231,3907 5258,3907 5250,4170 5240,4170" fill="#b5b5b5"/>
<polygon points="5469,3907 5494,3907 5487,4170 5477,4170" fill="#b5b5b5"/>

<!-- sofa -->
<rect x="5904" y="3818" width="575" height="160" rx="30" fill="#ebebeb"/>
<rect x="5880" y="3972" width="599" height="44" fill="#bdbdbd"/>
<rect x="5850" y="4014" width="629" height="86" fill="#ececec"/>
<rect x="5818" y="3909" width="130" height="191" rx="40" fill="#ededed" stroke="#dcdcdc" stroke-width="3"/>
<polygon points="5860,3898 5962,3880 5988,3992 5882,4012" fill="#e4e4e4" stroke="#d0d0d0" stroke-width="3"/>
<polygon points="5905,3945 5990,3930 6010,4018 5925,4030" fill="#e8e8e8" stroke="#d0d0d0" stroke-width="3"/>
<path d="M6000 3885 L6026 3915M6026 3885 L6000 3915M6130 3885 L6156 3915M6156 3885 L6130 3915M6271 3885 L6297 3915M6297 3885 L6271 3915M6401 3885 L6427 3915M6427 3885 L6401 3915" stroke="#c4c4c4" stroke-width="8"/>
<rect x="5935" y="4100" width="20" height="86" fill="#b0b0b0"/>

<!-- ground controls -->
<rect x="5932" y="3598" width="37" height="67" rx="5" fill="#fff" stroke="#999" stroke-width="3"/><rect x="5937" y="3608" width="27" height="45" fill="#333"/>
<circle cx="5990" cy="3592" r="11" fill="#2a8fd0"/>
<rect x="6128" y="3566" width="156" height="101" rx="6" fill="#1d1d1d"/>
<path d="M6206 3580 L6240 3600 V3635 L6206 3655 L6172 3635 V3600 Z" fill="none" stroke="#7fd0c0" stroke-width="4"/>
<text x="6206" y="3724" font-size="40" fill="#1e2a5a" text-anchor="middle" font-weight="bold">Falink</text>
<path d="M6320 3605 H6370M6320 3620 H6370" stroke="#aaa" stroke-width="6"/>
<use href="#ctrl" transform="translate(6399 3579)"/>
<rect x="6340" y="4190" width="18" height="14" fill="#aaa"/>
<rect x="6435" y="4129" width="185" height="62" fill="#a9a9a9"/>

<!-- ERV ground equipment -->
<path d="M7125 3452 V3200 Q7125 3136 7189 3136 H7555" fill="none" stroke="#a3d6f2" stroke-width="38"/>
<path d="M7210 3285 Q7210 3227 7268 3227 H7547" fill="none" stroke="#fcd8a6" stroke-width="40"/>
<rect x="6741" y="3285" width="102" height="100" rx="10" fill="url(#hatch)" stroke="#bbb" stroke-width="2"/>
<rect x="6825" y="3152" width="100" height="100" rx="10" fill="url(#hatch)" stroke="#bbb" stroke-width="2"/>
<path d="M6793 3310 V3452" stroke="#a3d6f2" stroke-width="34"/>
<path d="M6876 3165 V3285" stroke="#fcd8a6" stroke-width="34"/>
<rect x="6630" y="3278" width="52" height="171" fill="url(#flex)"/>
<rect x="6850" y="3278" width="52" height="171" fill="url(#flex)"/>
<rect x="6950" y="3278" width="51" height="171" fill="url(#flex)"/>
<rect x="7184" y="3278" width="52" height="171" fill="url(#flex)"/>
<text x="6741" y="3412" font-size="20" fill="#2a8fd0">OA室外进风口</text>
<use href="#erv" transform="translate(6623 3473)"/>
<use href="#erv" transform="translate(6944 3473)"/>
<g font-size="34" fill="#8ccbee"><text x="7565" y="3130">↙</text><text x="7590" y="3110">↓</text></g>
<g font-size="34" fill="#f6c48a"><text x="7570" y="3255">↗</text><text x="7590" y="3285">↘</text></g>

<!-- outdoor: solar icon, storage -->
<circle cx="2158" cy="3222" r="48" fill="#f6b942"/>
<path d="M2158 3150 V3120M2100 3172 L2082 3152M2216 3172 L2234 3152M2090 3222 H2062M2098 3275 L2078 3295" stroke="#f5a623" stroke-width="11"/>
<g transform="translate(2156 3244) skewX(-9)" fill="#f7c75a">
<rect x="8" y="0" width="44" height="33"/><rect x="56" y="0" width="44" height="33"/><rect x="104" y="0" width="44" height="33"/><rect x="152" y="0" width="44" height="33"/>
<rect x="8" y="37" width="44" height="33"/><rect x="56" y="37" width="44" height="33"/><rect x="104" y="37" width="44" height="33"/><rect x="152" y="37" width="44" height="33"/>
<rect x="8" y="74" width="44" height="33"/><rect x="56" y="74" width="44" height="33"/><rect x="104" y="74" width="44" height="33"/><rect x="152" y="74" width="44" height="33"/>
</g>
<path d="M2236 3392 V3470" stroke="#555" stroke-width="5"/><polygon points="2222,3466 2250,3466 2236,3492" fill="#555"/>
<path d="M2382 3478 A14 14 0 0 1 2382 3508M2392 3468 A26 26 0 0 1 2392 3518M2402 3458 A38 38 0 0 1 2402 3528" stroke="#9cc23a" stroke-width="6" fill="none"/>
<rect x="2112" y="3519" width="251" height="653" fill="#f3f3f3" stroke="#d6d6d6" stroke-width="4"/>
<path d="M2112 3737 H2363M2112 3799 H2363M2112 3985 H2363" stroke="#d2d2d2" stroke-width="4"/>
<rect x="2215" y="3588" width="43" height="30" fill="#333"/><rect x="2220" y="3593" width="33" height="20" fill="#e8e8e8"/>
<rect x="2212" y="3763" width="51" height="10" fill="#333"/>
<text x="2268" y="3722" font-size="17" fill="#777">MENRED ESS</text>
<path d="M2367 3677 H2510" stroke="#b9d12b" stroke-width="6" stroke-dasharray="6 6"/>

<!-- heat pump -->
<rect x="2512" y="3656" width="348" height="497" fill="url(#hpl)"/>
<circle cx="2695" cy="3911" r="133" fill="url(#hgrid)" stroke="#3a3a3a" stroke-width="5"/>
<g clip-path="url(#fanclip)" fill="#303030" opacity=".8">
<path d="M2695 3911 Q2640 3830 2690 3800 Q2720 3850 2705 3905 Z"/><path d="M2695 3911 Q2770 3880 2790 3930 Q2740 3960 2700 3918 Z"/><path d="M2695 3911 Q2680 3990 2630 3990 Q2630 3940 2688 3915 Z"/>
</g>
<rect x="2848" y="3656" width="14" height="497" fill="#8fa52c"/>
<rect x="2862" y="3656" width="156" height="497" fill="#3b4745"/>
<g opacity=".75">
<path d="M2870 3700 L2960 3680 L3010 3760 L2930 3790 Z" fill="#4d8288"/>
<path d="M2890 3800 L2990 3780 L3015 3880 L2900 3900 Z" fill="#3f6d8f"/>
<path d="M2875 3940 L2960 3960 L2940 4050 L2870 4030 Z" fill="#5c7d6c"/>
<path d="M2950 4040 L3015 4060 L3015 4140 L2960 4120 Z" fill="#4a7c8c"/>
<path d="M2900 3720 L2990 3830" stroke="#9a6a48" stroke-width="8"/>
<path d="M2880 4080 L2940 4110" stroke="#9a6a48" stroke-width="6"/>
</g>
<rect x="2530" y="4153" width="30" height="19" fill="#1a1a1a"/><rect x="2740" y="4153" width="30" height="19" fill="#1a1a1a"/><rect x="2970" y="4153" width="30" height="19" fill="#1a1a1a"/>
<circle cx="2956" cy="3948" r="28" fill="#e2e2e2" stroke="#555" stroke-width="6"/>
<polygon points="2942,3935 2970,3935 2956,3962" fill="#666"/>

<!-- tank -->
<rect x="3167" y="3700" width="62" height="24" rx="6" fill="#8f8f8f"/>
<rect x="3182" y="3678" width="8" height="24" fill="#b07050"/><rect x="3210" y="3684" width="11" height="18" fill="#b04030"/>
<rect x="3105" y="3722" width="191" height="450" rx="10" fill="#f6f6f6" stroke="#d4d4d4" stroke-width="3"/>
<rect x="3105" y="3722" width="191" height="20" rx="8" fill="#bdbdbd"/>
<rect x="3105" y="4155" width="191" height="17" fill="#c4c4c4"/>
<rect x="3200" y="3745" width="70" height="405" fill="#ececec" opacity=".8"/>

<!-- manifolds -->
<rect x="3432" y="3483" width="270" height="246" fill="#262626"/>
<rect x="3432" y="3851" width="270" height="244" fill="#262626"/>
<circle cx="3470" cy="3572" r="22" fill="#2d4b6a" stroke="#4a8ac0" stroke-width="5"/>
<circle cx="3602" cy="3572" r="22" fill="#4a3d2d" stroke="#c0905a" stroke-width="5"/>
<rect x="3446" y="3627" width="40" height="86" rx="6" fill="#f2f2f2"/><rect x="3588" y="3627" width="40" height="86" rx="6" fill="#f2f2f2"/>
<circle cx="3466" cy="3705" r="6" fill="#e3262c"/><circle cx="3608" cy="3705" r="6" fill="#e3262c"/>
<rect x="3504" y="3866" width="40" height="82" rx="6" fill="#f2f2f2"/><rect x="3644" y="3866" width="40" height="82" rx="6" fill="#f2f2f2"/>
<circle cx="3524" cy="3872" r="6" fill="#e3262c"/><circle cx="3664" cy="3872" r="6" fill="#e3262c"/>
<circle cx="3527" cy="4004" r="22" fill="#4a3d2d" stroke="#c0905a" stroke-width="5"/>
<circle cx="3658" cy="4004" r="22" fill="#2d4b6a" stroke="#4a8ac0" stroke-width="5"/>
<path d="M3340 3753 H3390M3348 3745 L3338 3753 L3348 3761" stroke="#e3262c" stroke-width="6" fill="none"/>
<path d="M3340 3838 H3385M3380 3830 L3390 3838" stroke="#2b2f8f" stroke-width="6" fill="none"/>

<!-- controller -->
<path d="M3093 3196 V3158" stroke="#222" stroke-width="5"/>
<rect x="3036" y="3196" width="112" height="158" rx="8" fill="#222"/>
<rect x="3050" y="3215" width="84" height="100" fill="#2c2c2c"/>
<rect x="3048" y="3330" width="14" height="24" fill="#111"/><rect x="3070" y="3330" width="14" height="24" fill="#111"/><rect x="3092" y="3330" width="14" height="24" fill="#111"/><rect x="3114" y="3330" width="14" height="24" fill="#111"/>
</svg>
</body></html>
